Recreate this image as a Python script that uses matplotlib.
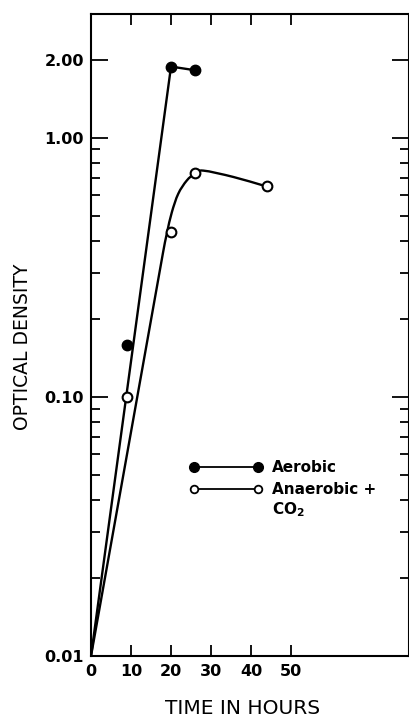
import matplotlib
matplotlib.use("Agg")
import numpy as np
import matplotlib.pyplot as plt
from matplotlib.lines import Line2D
from matplotlib.path import Path
from matplotlib.patches import PathPatch
from matplotlib.legend_handler import HandlerLine2D
from matplotlib.ticker import FixedLocator, FixedFormatter, LogLocator, NullFormatter

# ---- data ----
aerobic_hours = [9, 20, 26]
aerobic_od = [0.158, 1.88, 1.82]
aerobic_fit_hours = [0, 20, 26]
aerobic_fit_od = [0.01, 1.88, 1.82]

anaerobic_hours = [9, 20, 26, 44]
anaerobic_od = [0.10, 0.431, 0.728, 0.649]
# hand-drawn fit curve, knots
anaerobic_fit_hours = [0, 18.0, 19.0, 20.2, 21.8, 23.9, 26.0, 28.1, 35.6, 43.75]
anaerobic_fit_od = [0.01, 0.36, 0.43, 0.515, 0.607, 0.682, 0.728, 0.746, 0.705, 0.649]

x_ticks = [0, 10, 20, 30, 40, 50]
x_tick_labels = ["0", "10", "20", "30", "40", "50"]
y_ticks = [0.01, 0.1, 1.0, 2.0]
y_tick_labels = ["0.01", "0.10", "1.00", "2.00"]
series_labels = ["Aerobic", "Anaerobic +"]
label_suffix = r"CO$_\mathbf{2}$"
x_label = "TIME IN HOURS"
y_label = "OPTICAL DENSITY"

plt.rcParams['font.family'] = ['DejaVu Sans']


def smooth_log_path(xs, ys):
    """Straight first segment, then Bezier curves (Catmull-Rom controls) through
    the knots, computed in (x, log10 y) space so the library's log scale draws it."""
    P = np.column_stack([np.asarray(xs, float), np.log10(np.asarray(ys, float))])
    n = len(P)
    T = np.zeros_like(P)
    for i in range(1, n):
        if i == n - 1:
            T[i] = P[i] - P[i - 1]
        else:
            T[i] = (P[i + 1] - P[i - 1]) / 2.0
    # keep tangent continuity with the straight first segment
    d0 = P[1] - P[0]
    T[1] = d0 * ((P[2, 0] - P[1, 0]) / d0[0])
    verts = [P[0], P[1]]
    codes = [Path.MOVETO, Path.LINETO]
    for i in range(1, n - 1):
        c1 = P[i] + T[i] / 3.0
        c2 = P[i + 1] - T[i + 1] / 3.0
        verts += [c1, c2, P[i + 1]]
        codes += [Path.CURVE4] * 3
    V = np.array(verts)
    V[:, 1] = 10 ** V[:, 1]
    return Path(V, codes)


fig = plt.figure(figsize=(4.10, 7.17), dpi=100)
ax = fig.add_axes([0.222, 0.0851, 0.7756, 0.8954])
ax.set_yscale('log')
ax.set_xlim(0, 79.5)
ax.set_ylim(0.01, 3.0)

lw = 1.7
ax.plot(aerobic_fit_hours, aerobic_fit_od, color='black', lw=lw,
        solid_joinstyle='round', solid_capstyle='round', zorder=2)
ax.add_patch(PathPatch(smooth_log_path(anaerobic_fit_hours, anaerobic_fit_od),
                       fill=False, ec='black', lw=lw, capstyle='round',
                       joinstyle='round', zorder=2))
ax.plot(aerobic_hours, aerobic_od, 'o', color='black', ms=7.5, zorder=3)
ax.plot(anaerobic_hours, anaerobic_od, 'o', mfc='white', mec='black', mew=1.5, ms=7, zorder=3)

# legend
h1 = Line2D([], [], color='black', lw=1.3, marker='o', ms=7, mfc='black', mec='black')
h2 = Line2D([], [], color='black', lw=1.3, marker='o', ms=5.5, mfc='white', mec='black', mew=1.3)
leg = ax.legend([h1, h2], series_labels, loc='upper left', bbox_to_anchor=(0.324, 0.305),
                frameon=False, borderpad=0, borderaxespad=0, handlelength=4.17,
                handletextpad=0.95, labelspacing=0.45,
                prop={'weight': 'bold', 'size': 11},
                handler_map={Line2D: HandlerLine2D(numpoints=2, marker_pad=0)})
txt = leg.get_texts()[1]
ax.annotate(label_suffix, xy=(0, 0), xycoords=txt, xytext=(0, -12.5),
            textcoords='offset points', va='baseline', ha='left',
            fontsize=11, fontweight='bold', zorder=6, annotation_clip=False)

# ticks
ax.xaxis.set_major_locator(FixedLocator(x_ticks))
ax.xaxis.set_major_formatter(FixedFormatter(x_tick_labels))
ax.yaxis.set_major_locator(FixedLocator(y_ticks))
ax.yaxis.set_major_formatter(FixedFormatter(y_tick_labels))
ax.yaxis.set_minor_locator(LogLocator(base=10, subs=(2, 3, 4, 5, 6, 7, 8, 9), numticks=50))
ax.yaxis.set_minor_formatter(NullFormatter())

ax.tick_params(axis='both', which='both', direction='in', top=True, right=True, color='black')
ax.tick_params(axis='y', which='major', length=12, width=1.3, pad=5, labelsize=11.5)
ax.tick_params(axis='y', which='minor', length=6.5, width=1.3)
ax.tick_params(axis='x', which='major', length=8, width=1.3, pad=6, labelsize=11.5)
for lbl in ax.get_xticklabels() + ax.get_yticklabels():
    lbl.set_fontweight('bold')

for s in ax.spines.values():
    s.set_linewidth(1.5)

ax.set_xlabel(x_label, fontsize=14.5)
ax.xaxis.set_label_coords(0.478, -0.067)
ax.set_ylabel(y_label, fontsize=13.5)
ax.yaxis.set_label_coords(-0.187, 0.482)

fig.savefig("out.png", dpi=100)
